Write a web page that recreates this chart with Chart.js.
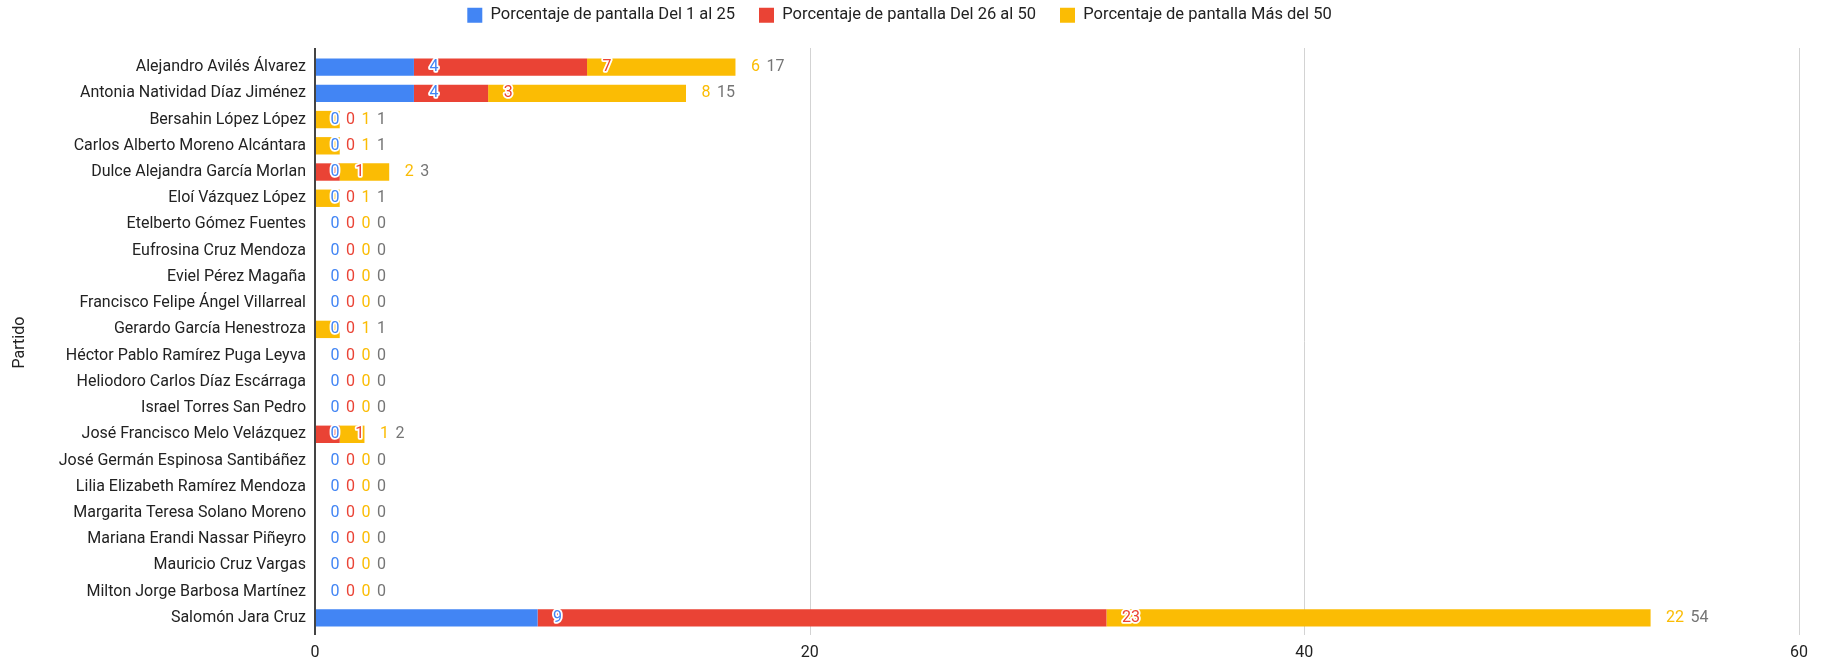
<!DOCTYPE html>
<html>
<head>
<meta charset="utf-8">
<script src="https://cdn.jsdelivr.net/npm/chart.js@4"></script>
<style>
  body { margin: 0; background: #fff; }
  #wrap { width: 1827px; height: 663px; }
</style>
</head>
<body>
<div id="wrap"><canvas id="myChart"></canvas></div>
<script>
const categories = [
  'Alejandro Avilés Álvarez',
  'Antonia Natividad Díaz Jiménez',
  'Bersahin López López',
  'Carlos Alberto Moreno Alcántara',
  'Dulce Alejandra García Morlan',
  'Eloí Vázquez López',
  'Etelberto Gómez Fuentes',
  'Eufrosina Cruz Mendoza',
  'Eviel Pérez Magaña',
  'Francisco Felipe Ángel Villarreal',
  'Gerardo García Henestroza',
  'Héctor Pablo Ramírez Puga Leyva',
  'Heliodoro Carlos Díaz Escárraga',
  'Israel Torres San Pedro',
  'José Francisco Melo Velázquez',
  'José Germán Espinosa Santibáñez',
  'Lilia Elizabeth Ramírez Mendoza',
  'Margarita Teresa Solano Moreno',
  'Mariana Erandi Nassar Piñeyro',
  'Mauricio Cruz Vargas',
  'Milton Jorge Barbosa Martínez',
  'Salomón Jara Cruz'
];
const seriesNames = [
  'Porcentaje de pantalla Del 1 al 25',
  'Porcentaje de pantalla Del 26 al 50',
  'Porcentaje de pantalla Más del 50'
];
const del1al25  = [4, 4, 0, 0, 0, 0, 0, 0, 0, 0, 0, 0, 0, 0, 0, 0, 0, 0, 0, 0, 0, 9];
const del26al50 = [7, 3, 0, 0, 1, 0, 0, 0, 0, 0, 0, 0, 0, 0, 1, 0, 0, 0, 0, 0, 0, 23];
const masDel50  = [6, 8, 1, 1, 2, 1, 0, 0, 0, 0, 1, 0, 0, 0, 1, 0, 0, 0, 0, 0, 0, 22];
const xTicks = [0, 20, 40, 60];

const colors = ['#4285F4', '#EA4335', '#FBBC04'];
const FONT = 'Roboto';

// extra room under the legend
const legendSpacer = {
  id: 'legendSpacer',
  beforeInit(chart) {
    const fit = chart.legend.fit;
    chart.legend.fit = function () {
      fit.call(this);
      this.height += 20.5;
    };
  }
};

// grid lines a bit taller than the bar band, like the original
const gridLines = {
  id: 'gridLines',
  beforeDatasetsDraw(chart) {
    const {ctx, chartArea, scales: {x}} = chart;
    ctx.save();
    ctx.strokeStyle = '#d3d3d3';
    ctx.lineWidth = 1;
    xTicks.slice(1).forEach(v => {
      const px = Math.round(x.getPixelForValue(v)) + 0.5;
      ctx.beginPath();
      ctx.moveTo(px, chartArea.top - 6);
      ctx.lineTo(px, chartArea.bottom + 4);
      ctx.stroke();
    });
    ctx.restore();
  },
  afterDatasetsDraw(chart) {
    const {ctx, chartArea, scales: {x}} = chart;
    const px = Math.round(x.getPixelForValue(0));
    ctx.save();
    ctx.strokeStyle = '#444';
    ctx.lineWidth = 2;
    ctx.beginPath();
    ctx.moveTo(px, chartArea.top - 6);
    ctx.lineTo(px, chartArea.bottom + 4);
    ctx.stroke();
    ctx.restore();
  }
};

// value labels after each segment end, plus the row total
const segmentLabels = {
  id: 'segmentLabels',
  afterDraw(chart) {
    const {ctx, scales: {x}} = chart;
    ctx.save();
    ctx.font = '16px ' + FONT;
    ctx.textBaseline = 'middle';
    ctx.textAlign = 'left';
    ctx.lineJoin = 'round';
    categories.forEach((name, i) => {
      const y = chart.getDatasetMeta(0).data[i].y;
      let sum = 0;
      const items = chart.data.datasets.map(ds => {
        sum += ds.data[i];
        return {text: String(ds.data[i]), end: sum, color: ds.backgroundColor, outline: true};
      });
      items.push({text: String(sum), end: sum, color: '#757575', outline: false});
      let right = -Infinity;
      items.forEach(it => {
        const px = Math.max(x.getPixelForValue(it.end) + 15.5, right + 6.5);
        if (it.outline) {
          ctx.strokeStyle = '#fff';
          ctx.lineWidth = 3.5;
          ctx.strokeText(it.text, px, y);
        }
        ctx.fillStyle = it.color;
        ctx.fillText(it.text, px, y);
        right = px + ctx.measureText(it.text).width;
      });
    });
    ctx.restore();
  }
};

const ctx = document.getElementById('myChart');

new Chart(ctx, {
  type: 'bar',
  data: {
    labels: categories,
    datasets: [
      {label: seriesNames[0], data: del1al25, backgroundColor: colors[0]},
      {label: seriesNames[1], data: del26al50, backgroundColor: colors[1]},
      {label: seriesNames[2], data: masDel50, backgroundColor: colors[2]}
    ]
  },
  options: {
    indexAxis: 'y',
    responsive: true,
    maintainAspectRatio: false,
    animation: false,
    barPercentage: 0.663,
    categoryPercentage: 1,
    layout: {
      padding: {top: -17, right: 28, bottom: 0, left: 0}
    },
    plugins: {
      legend: {
        position: 'top',
        labels: {
          boxWidth: 15,
          boxHeight: 15,
          padding: 24,
          color: '#222',
          font: {family: FONT, size: 16.5}
        }
      },
      tooltip: {enabled: false}
    },
    scales: {
      x: {
        stacked: true,
        min: 0,
        max: 60,
        afterFit(scale) { scale.height = 32; },
        afterBuildTicks(scale) { scale.ticks = xTicks.map(v => ({value: v})); },
        grid: {display: false},
        border: {display: false},
        ticks: {
          padding: 4,
          color: '#222',
          font: {family: FONT, size: 16}
        }
      },
      y: {
        stacked: true,
        afterFit(scale) { scale.width = 315; },
        grid: {display: false, drawTicks: false},
        border: {display: false},
        ticks: {
          padding: 9,
          color: '#222',
          font: {family: FONT, size: 16}
        },
        title: {
          display: true,
          text: 'Partido',
          color: '#222',
          padding: {top: 10, bottom: 0},
          font: {family: FONT, size: 16}
        }
      }
    }
  },
  plugins: [legendSpacer, gridLines, segmentLabels]
});
</script>
</body>
</html>
